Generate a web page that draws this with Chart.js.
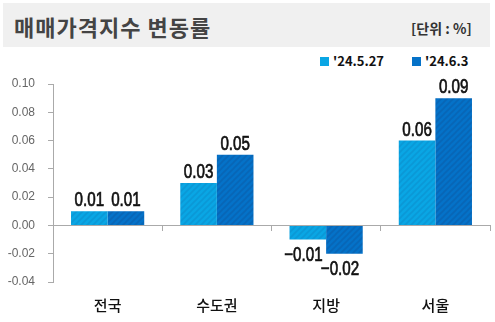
<!DOCTYPE html>
<html>
<head>
<meta charset="utf-8">
<script src="https://cdn.jsdelivr.net/npm/chart.js@4/dist/chart.umd.min.js"></script>
<style>
  html, body { margin: 0; padding: 0; background: #fff; }
  #wrap { position: relative; width: 495px; height: 322px; overflow: hidden; }
  #band { position: absolute; left: 3px; top: 3px; width: 487px; height: 44px; background: #f0f0f0; }
  #title { position: absolute; left: 14px; top: 11px; font: bold 22px "Noto Sans CJK KR", sans-serif; color: #444; letter-spacing: 1px; line-height: 30px; white-space: nowrap; }
  #unit { position: absolute; left: 411px; top: 18px; font: bold 14px "Noto Sans CJK KR", sans-serif; color: #333; line-height: 20px; white-space: nowrap; }
  .leg { position: absolute; top: 52px; font: bold 13px "Noto Sans CJK KR", sans-serif; color: #111; line-height: 18px; white-space: nowrap; }
  .sw { display: inline-block; width: 9px; height: 9px; vertical-align: -0px; margin-right: 4px; }
  canvas { position: absolute; left: 0; top: 0; }
</style>
</head>
<body>
<div id="wrap">
  <div id="band"></div>
  <div id="title">매매가격지수 변동률</div>
  <div id="unit">[단위 : %]</div>
  <div class="leg" id="leg1" style="left:320px"><span class="sw" style="background:#0aa6e4"></span><span id="l1"></span></div>
  <div class="leg" id="leg2" style="left:412px"><span class="sw" style="background:#0572c8"></span><span id="l2"></span></div>
  <canvas id="c" width="495" height="322"></canvas>
</div>
<script>
const categories = ['전국', '수도권', '지방', '서울'];
const seriesNames = ["'24.5.27", "'24.6.3"];
const series1 = [0.01, 0.03, -0.01, 0.06];
const series2 = [0.01, 0.05, -0.02, 0.09];
const yTickMin = -0.04, yTickMax = 0.10, yTickStep = 0.02;

document.getElementById('l1').textContent = seriesNames[0];
document.getElementById('l2').textContent = seriesNames[1];

function hatch(base, stripe) {
  const s = 6;
  const cv = document.createElement('canvas');
  cv.width = s; cv.height = s;
  const g = cv.getContext('2d');
  g.fillStyle = base; g.fillRect(0, 0, s, s);
  g.strokeStyle = stripe; g.lineWidth = 1.6;
  g.beginPath();
  g.moveTo(-1, s + 1); g.lineTo(s + 1, -1);
  g.moveTo(-1, 1); g.lineTo(1, -1);
  g.moveTo(s - 1, s + 1); g.lineTo(s + 1, s - 1);
  g.stroke();
  return g.createPattern(cv, 'repeat');
}

const labelPlugin = {
  id: 'valueLabels',
  afterDatasetsDraw(chart) {
    const ctx = chart.ctx;
    ctx.save();
    ctx.fillStyle = '#111';
    ctx.textAlign = 'center';
    chart.data.datasets.forEach((ds, di) => {
      const meta = chart.getDatasetMeta(di);
      meta.data.forEach((el, i) => {
        const v = ds.data[i];
        const txt = (v < 0 ? '\u2212' : '') + Math.abs(v).toFixed(2);
        ctx.save();
        ctx.translate(el.x, 0);
        ctx.scale(0.74, 1);
        ctx.font = '20.5px "Liberation Sans", Arial, sans-serif';
        ctx.lineWidth = 0.7;
        ctx.strokeStyle = '#111';
        ctx.textBaseline = 'alphabetic';
        const yy = v >= 0 ? el.y - 5 : el.y + 21;
        const xx = v >= 0 ? 0 : -6;
        ctx.fillText(txt, xx, yy);
        ctx.strokeText(txt, xx, yy);
        ctx.restore();
      });
    });
    ctx.restore();
  }
};

new Chart(document.getElementById('c'), {
  type: 'bar',
  data: {
    labels: categories,
    datasets: [
      { label: seriesNames[0], data: series1, backgroundColor: hatch('#0aa6e4', '#0b98d6'), borderWidth: 0 },
      { label: seriesNames[1], data: series2, backgroundColor: hatch('#0572c8', '#0866b6'), borderWidth: 0 }
    ]
  },
  options: {
    responsive: false,
    animation: false,
    devicePixelRatio: 1,
    layout: { padding: { top: 84, bottom: 40, left: 0, right: 5 } },
    plugins: { legend: { display: false }, tooltip: { enabled: false } },
    datasets: { bar: { categoryPercentage: 0.67, barPercentage: 1.0 } },
    scales: {
      x: {
        position: { y: 0 },
        afterFit: (s) => { s.paddingLeft = 0; s.paddingRight = 0; },
        grid: {
          drawOnChartArea: false, drawTicks: true, tickLength: 5,
          color: (c) => (c.index === 0 || c.index === categories.length) ? 'rgba(0,0,0,0)' : '#aaa'
        },
        border: { display: true, color: '#aaa', width: 1 },
        ticks: {
          padding: 66, color: '#111',
          font: { family: '"Noto Sans CJK KR", sans-serif', size: 15, weight: '500' }
        }
      },
      y: {
        min: yTickMin, max: yTickMax,
        afterFit: (s) => { s.width = 53; },
        grid: { drawOnChartArea: false, drawTicks: true, tickLength: 5, color: '#aaa' },
        border: { display: true, color: '#aaa', width: 1 },
        ticks: {
          stepSize: yTickStep, padding: 13, color: '#666',
          font: { family: '"Liberation Sans", Arial, sans-serif', size: 12 },
          callback: (v) => (Math.round(v * 100) / 100).toFixed(2)
        }
      }
    }
  },
  plugins: [labelPlugin]
});
</script>
</body>
</html>
